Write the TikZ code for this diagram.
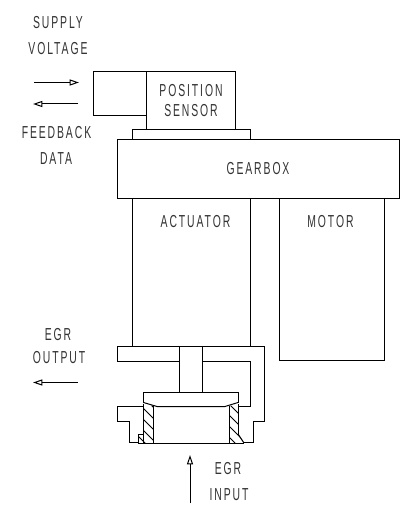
\documentclass[tikz,border=0pt]{standalone}
\usepackage{fontspec}
\setmainfont[FakeStretch=0.6,LetterSpace=11]{Liberation Sans}
\usetikzlibrary{arrows.meta}
\tikzset{
  lbl/.style={inner sep=0pt,text=black!80,font=\fontsize{13}{14}\selectfont},
  flow/.style={-{Triangle[open,length=7pt,width=4.5pt]},line width=0.75pt},
  part/.style={line width=0.75pt},
}

\begin{document}
\begin{tikzpicture}[x=0.75pt,y=-0.75pt]
\useasboundingbox (0,0) rectangle (408,531);

% sensor and housing
\draw[part] (146.5,71.5) -- (93.5,71.5) -- (93.5,115.5) -- (146.5,115.5);
\draw[part] (146.5,71.5) rectangle (235,130);
\draw[part] (132,139.5) -- (132,130) -- (250,130) -- (250,139.5);
\draw[part] (117,139.5) rectangle (399.5,198.5);
\draw[part] (132,198.5) rectangle (250,346.5);
\draw[part] (279,198.5) rectangle (384,360.5);

% shaft and passages
\draw[part] (117,346.5) -- (264.5,346.5) -- (264.5,421) -- (253,421) -- (253,442.5) -- (244,442.5);
\draw[part] (117,346.5) -- (117,361) -- (179,361);
\draw[part] (179,346.5) -- (179,392);
\draw[part] (202,346.5) -- (202,392);
\draw[part] (202,361) -- (250,361) -- (250,406.5) -- (238,406.5);
\draw[part] (143.5,406.5) -- (117,406.5) -- (117,421) -- (129,421) -- (129,442.5) -- (138,442.5);

% valve
\draw[part] (143.5,403) -- (143.5,392) -- (238,392) -- (238,403);
\draw[part] (143.5,402.5) -- (157,406.5) -- (225,406.5) -- (238,402.5);
\draw[part] (143.5,404) -- (143.5,443) (153,406) -- (153,443);
\draw[part] (229.5,406) -- (229.5,443) (238,404) -- (238,434);
\draw[part] (138,443) -- (244,443);
\draw[part] (138,443) -- (138,434) -- (143.5,434);
\draw[part] (244,443) -- (238,434);

% hatching
\begin{scope}
\clip (143.5,404) -- (153,406) -- (153,443) -- (138,443) -- (138,434) -- (143.5,434) -- cycle;
\foreach \y in {373,384,...,439} {
  \draw[line width=0.6pt] (130,\y) -- (160,\y+30);
}
\end{scope}
\begin{scope}
\clip (229.5,406) -- (238,404) -- (238,434) -- (244,443) -- (229.5,443) -- cycle;
\foreach \y in {373,384,...,439} {
  \draw[line width=0.6pt] (220,\y) -- (250,\y+30);
}
\end{scope}

% flows
\coordinate (supplyA) at (34,82.5);
\coordinate (supplyB) at (79,82.5);
\coordinate (feedA) at (78,104);
\coordinate (feedB) at (33,104);
\coordinate (outA) at (78,382.5);
\coordinate (outB) at (33,382.5);
\coordinate (inA) at (190,503);
\coordinate (inB) at (190,455);
\draw[flow] (supplyA) -- (supplyB);
\draw[flow] (feedA) -- (feedB);
\draw[flow] (outA) -- (outB);
\draw[flow] (inA) -- (inB);

% labels
\node[lbl] (supply) at (58,23) {SUPPLY};
\node[lbl] (voltage) at (58,48.5) {VOLTAGE};
\node[lbl] (feedback) at (56.5,133) {FEEDBACK};
\node[lbl] (data) at (56,159) {DATA};
\node[lbl] (position) at (191,90.5) {POSITION};
\node[lbl] (sensor) at (191,111) {SENSOR};
\node[lbl] (gearbox) at (258,169) {GEARBOX};
\node[lbl] (actuator) at (195.5,222) {ACTUATOR};
\node[lbl] (motor) at (330.5,222) {MOTOR};
\node[lbl] (egrout) at (58,335) {EGR};
\node[lbl] (output) at (59,358) {OUTPUT};
\node[lbl] (egrin) at (228,469) {EGR};
\node[lbl] (input) at (229,495) {INPUT};
\end{tikzpicture}
\end{document}
